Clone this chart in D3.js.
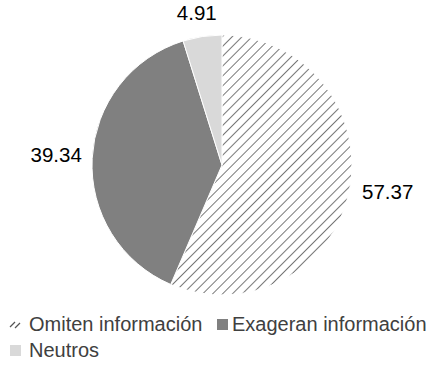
<!DOCTYPE html>
<html>
<head>
<meta charset="utf-8">
<script src="https://cdn.jsdelivr.net/npm/d3@7"></script>
<style>
  body { margin: 0; background: #fff; }
  text { font-family: "Liberation Sans", Arial, sans-serif; fill: #000; }
  .leyenda { fill: #404040; font-size: 20px; }
</style>
</head>
<body>
<div id="chart"></div>
<script>
// datos del grafico
var categorias = ["Omiten información", "Exageran información", "Neutros"];
var valores = [57.37, 39.34, 4.91];
var etiquetas = ["57.37", "39.34", "4.91"];

var width = 440, height = 371,
    cx = 222, cy = 165, r = 130;

var svg = d3.select("#chart").append("svg")
    .attr("width", width)
    .attr("height", height);

// motivo rayado
var defs = svg.append("defs");
var pat = defs.append("pattern")
    .attr("id", "rayas")
    .attr("patternUnits", "userSpaceOnUse")
    .attr("width", 7)
    .attr("height", 7)
    .attr("patternTransform", "rotate(45)");
pat.append("rect").attr("width", 7).attr("height", 7).attr("fill", "#fff");
pat.append("line")
    .attr("x1", 0).attr("y1", 0).attr("x2", 0).attr("y2", 7)
    .attr("stroke", "#555").attr("stroke-width", 1.6);

var colores = d3.scaleOrdinal()
    .domain(categorias)
    .range(["url(#rayas)", "#808080", "#d9d9d9"]);

var pie = d3.pie().sort(null).value(function(d) { return d; });
var arc = d3.arc().innerRadius(0).outerRadius(r);

var g = svg.append("g").attr("transform", "translate(" + cx + "," + cy + ")");

var arcos = pie(valores);

g.selectAll("path.sector")
    .data(arcos)
    .enter().append("path")
    .attr("class", "sector")
    .attr("d", arc)
    .attr("fill", function(d, i) { return colores(categorias[i]); })
    .attr("stroke", "#fff")
    .attr("stroke-width", 1);

// etiquetas
var arcEtiqueta = d3.arc().innerRadius(r + 30).outerRadius(r + 30);
var ajustes = [[9, -5], [-6, -2], [-1, 6]];
g.selectAll("text.valor")
    .data(arcos)
    .enter().append("text")
    .attr("class", "valor")
    .attr("transform", function(d, i) {
        var c = arcEtiqueta.centroid(d);
        return "translate(" + (c[0] + ajustes[i][0]) + "," + (c[1] + ajustes[i][1]) + ")";
    })
    .attr("text-anchor", "middle")
    .attr("dy", "0.35em")
    .style("font-size", "20.5px")
    .text(function(d, i) { return etiquetas[i]; });

// leyenda
var posLeyenda = [[10, 331], [217, 331], [10, 357]];
var ley = svg.selectAll("g.ley")
    .data(categorias)
    .enter().append("g")
    .attr("class", "ley")
    .attr("transform", function(d, i) { return "translate(" + posLeyenda[i][0] + "," + posLeyenda[i][1] + ")"; });

ley.each(function(d, i) {
    var el = d3.select(this);
    if (i === 0) {
        el.append("line").attr("x1", 0).attr("y1", -4).attr("x2", 5).attr("y2", -9)
            .attr("stroke", "#555").attr("stroke-width", 1.3);
        el.append("line").attr("x1", 5).attr("y1", -3).attr("x2", 10).attr("y2", -8)
            .attr("stroke", "#555").attr("stroke-width", 1.3);
    } else {
        el.append("rect")
            .attr("x", 0).attr("y", -12)
            .attr("width", 11).attr("height", 11)
            .attr("fill", colores(d));
    }
    el.append("text")
        .attr("class", "leyenda")
        .attr("x", i === 1 ? 15 : 19)
        .attr("y", 0)
        .text(d);
});
</script>
</body>
</html>
